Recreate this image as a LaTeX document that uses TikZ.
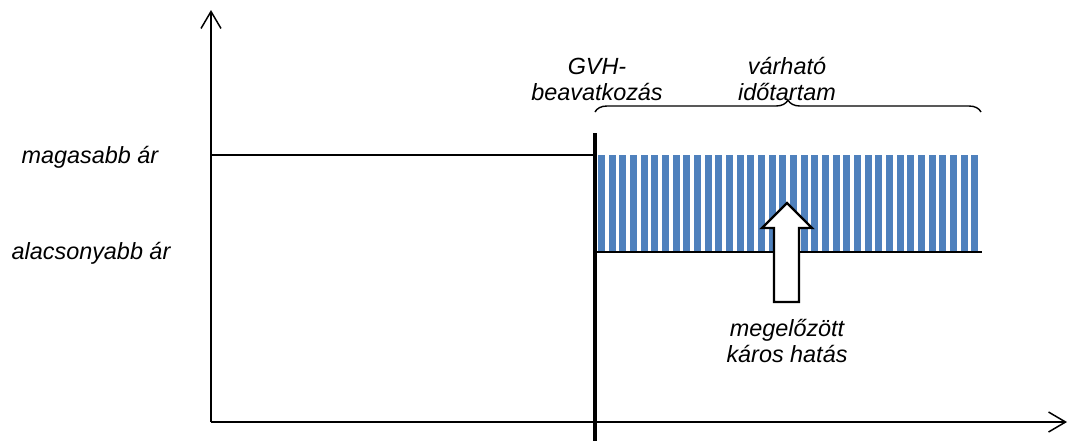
\documentclass[tikz,border=0pt]{standalone}
\usepackage{fontspec}
\setmainfont{Liberation Sans}
\usetikzlibrary{arrows.meta, decorations.pathreplacing}
\definecolor{stripeblue}{HTML}{4F81BD}

\begin{document}
\begin{tikzpicture}[x=0.5pt, y=-0.5pt,
  lbl/.style={font=\fontsize{11.7}{13}\selectfont\itshape, align=center},
  axis/.style={line width=0.75pt, -{Straight Barb[length=8.5pt, width=10pt]}}]

  \useasboundingbox (0,0) rectangle (1068,441);

  \coordinate (O) at (211,422);
  \coordinate (yTop) at (211,10);
  \coordinate (xEnd) at (1067,422);
  \coordinate (hiL) at (211,155);
  \coordinate (hiR) at (595,155);
  \coordinate (cutTop) at (595,133);
  \coordinate (cutBot) at (595,441);
  \coordinate (loL) at (595,252);
  \coordinate (loR) at (982,252);

  % stripes of the prevented harm
  \foreach \i in {0,...,35}
    \fill[stripeblue] ({598+\i*10.67},155) rectangle ({598+\i*10.67+7},251);

  \draw[axis] (O) -- (yTop);
  \draw[axis] (O) -- (xEnd);

  \draw[line width=0.75pt] (hiL) -- (hiR);
  \draw[line width=0.75pt] (loL) -- (loR);
  \draw[line width=2pt] (cutTop) -- (cutBot);

  \node[lbl] (hi) at (90,157) {magasabb ár};
  \node[lbl] (lo) at (91,253) {alacsonyabb ár};

  \node[lbl] (gvh) at (597,79) {GVH-\\beavatkozás};
  \node[lbl] (dur) at (787,79) {várható\\időtartam};

  \draw[line width=0.7pt, decorate, decoration={brace, amplitude=6pt}]
    (595,112) -- (981,112);

  % block arrow
  \draw[line width=1.2pt, fill=white]
    (774,302) -- (774,228) -- (762,228) -- (787,203) -- (812,228)
    -- (799,228) -- (799,302) -- cycle;

  \node[lbl] (harm) at (787,341) {megelőzött\\káros hatás};

\end{tikzpicture}
\end{document}
